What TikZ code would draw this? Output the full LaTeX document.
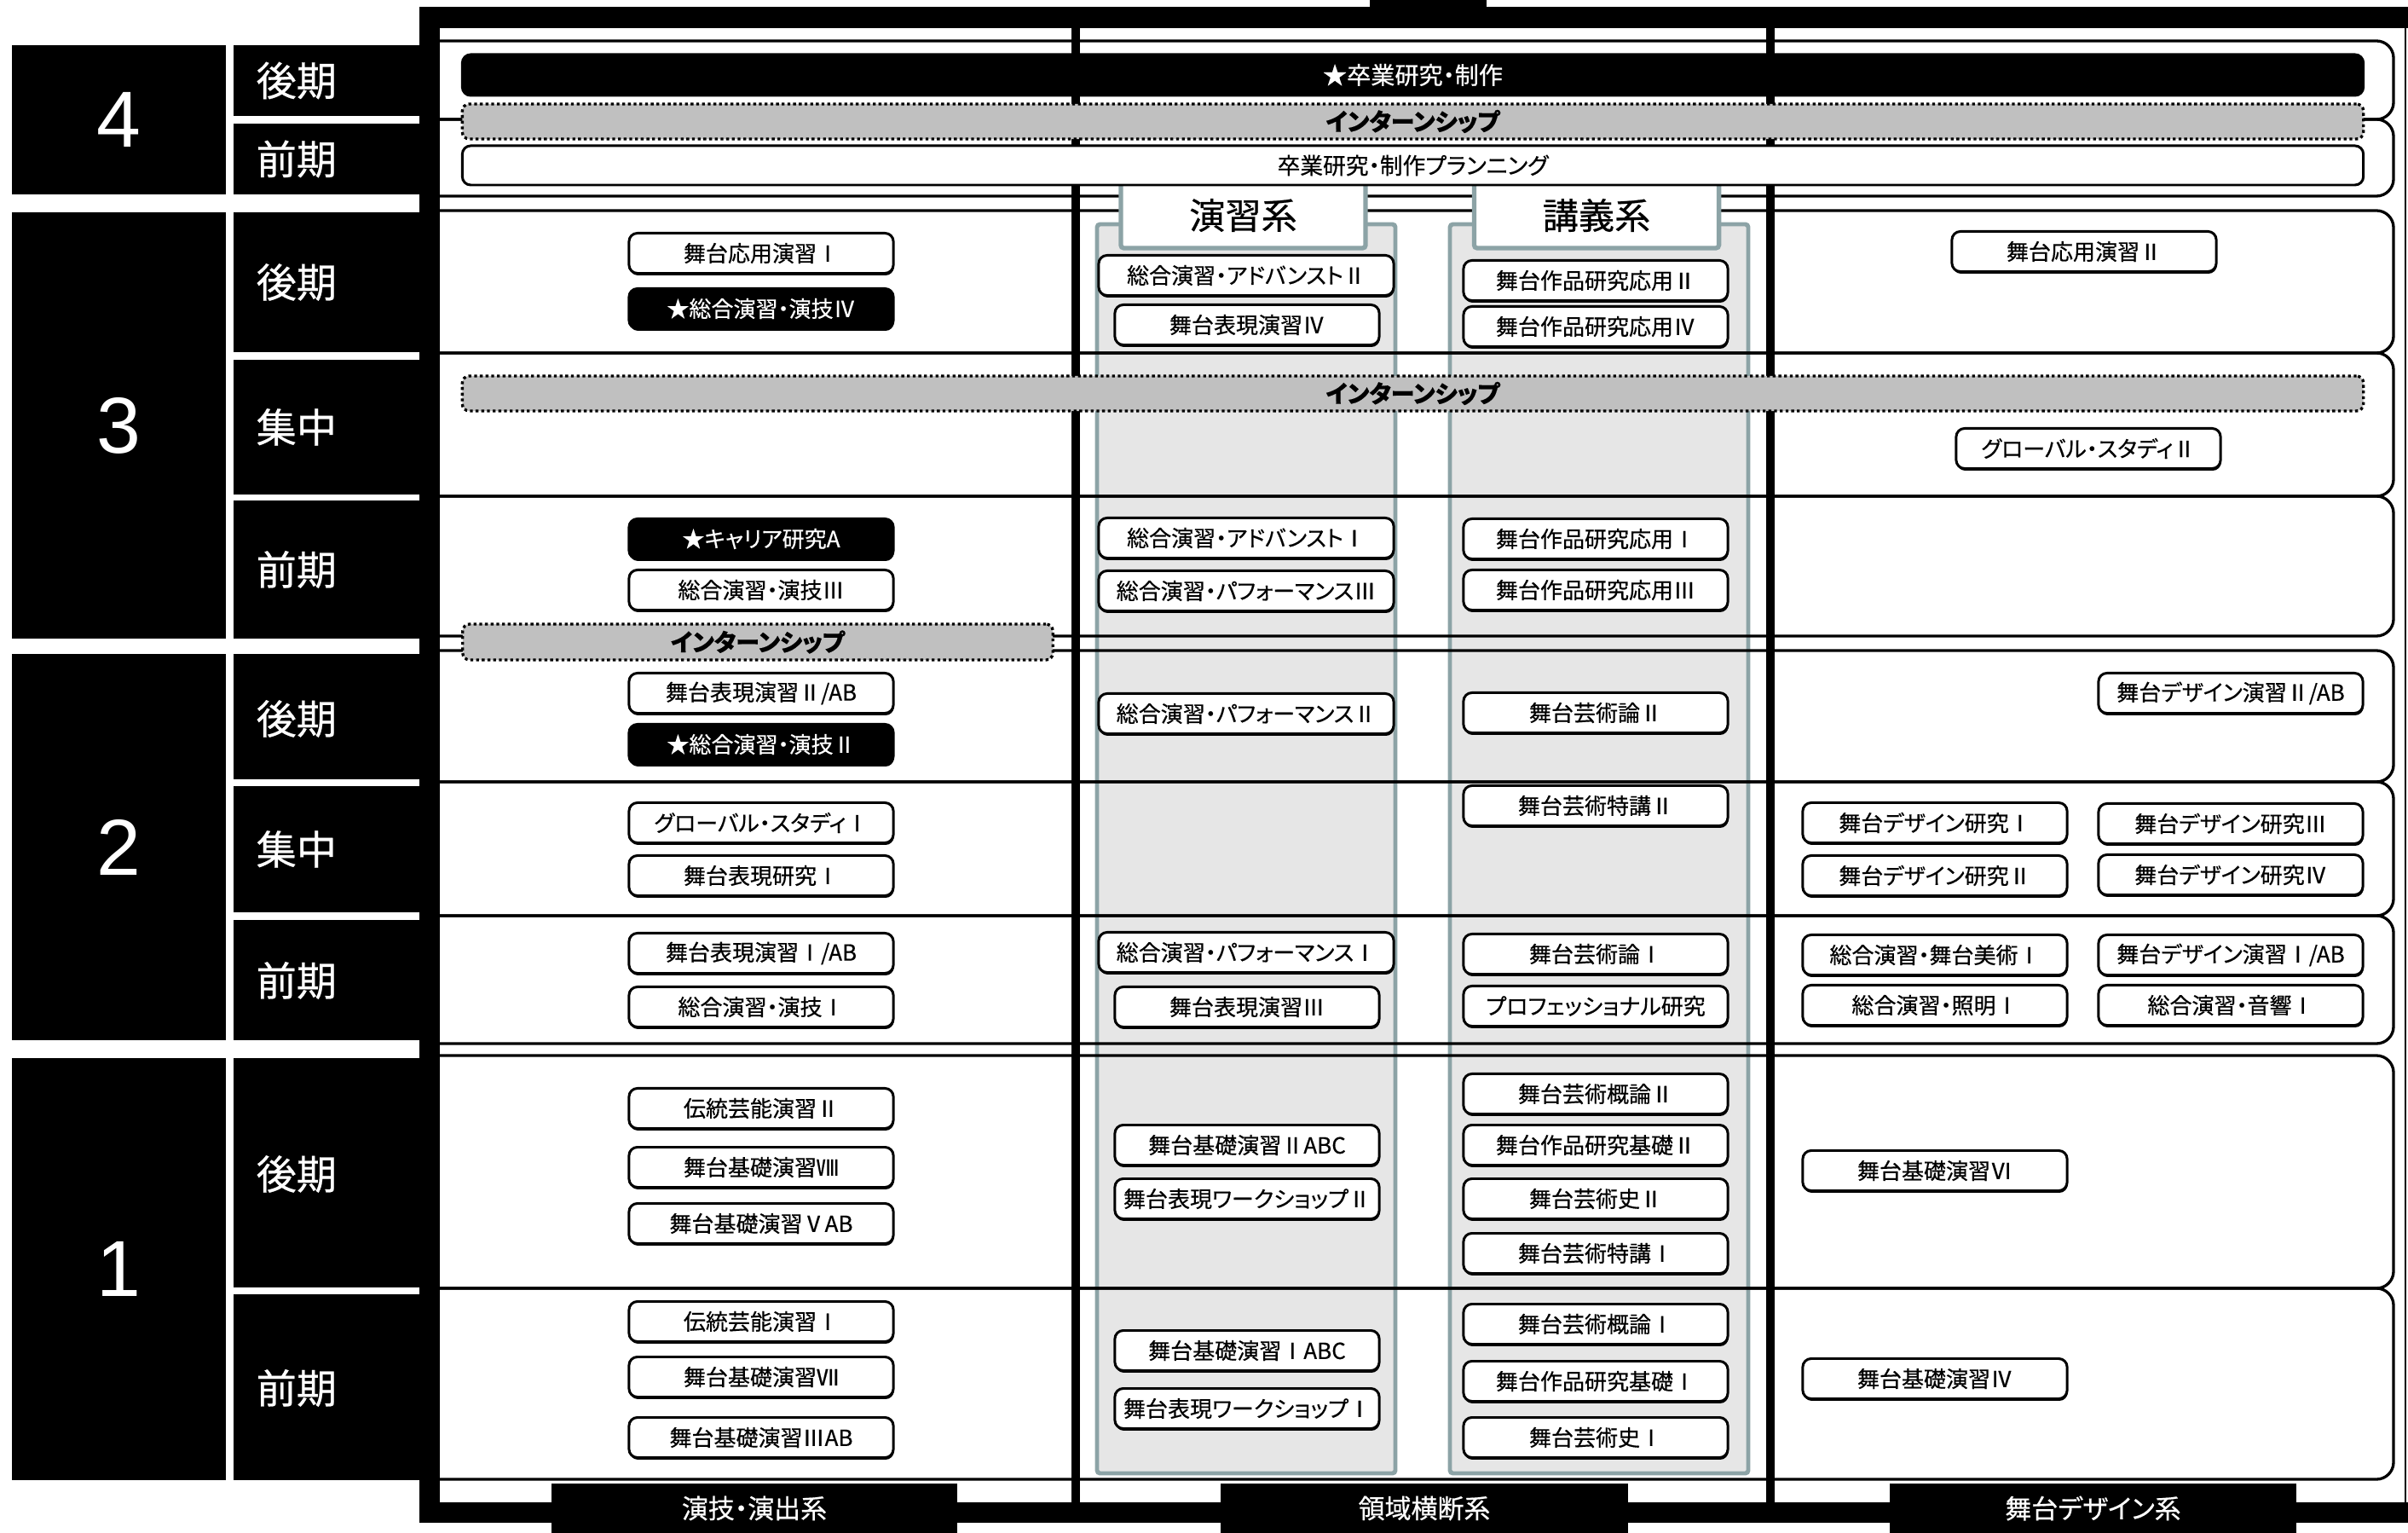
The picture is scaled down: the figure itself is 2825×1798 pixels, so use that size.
\documentclass[tikz,border=0pt]{standalone}
\usepackage{fontspec}
\setmainfont{Noto Sans CJK JP}
\newfontfamily\jp[RawFeature=+palt, FakeBold=0.5]{Noto Sans CJK JP}
\newfontfamily\jpn[FakeBold=0.5]{Noto Sans CJK JP}
\newfontfamily\lat{Liberation Sans}
\usetikzlibrary{shadows}
\definecolor{tealgray}{RGB}{140,163,166}
\definecolor{panelgray}{RGB}{230,230,230}
\definecolor{interngray}{RGB}{192,192,192}
\tikzset{
  course/.style={draw=black, line width=0.85pt, fill=white, rounded corners=2.8pt,
    minimum height=0.47cm, inner sep=0pt, font=\jp\fontsize{7.4}{8}\selectfont,
    drop shadow={shadow xshift=0.2pt, shadow yshift=-0.7pt, fill=black, opacity=1}},
  dark/.style={fill=black, text=white},
  cw/.style={minimum width=3.1cm},
  ww/.style={minimum width=3.46cm},
  rowl/.style={line width=0.94pt, rounded corners=0.2cm},
  divider/.style={line width=2.85pt},
  panel/.style={draw=tealgray, line width=1.4pt, fill=panelgray, rounded corners=1pt},
  header/.style={draw=tealgray, line width=1.5pt, fill=white, rounded corners=1pt,
    minimum width=2.87cm, minimum height=0.77cm, inner sep=0pt, font=\jpn\fontsize{12}{13}\selectfont},
  intern/.style={draw=black, fill=interngray, line width=0.94pt, dash pattern=on 0.95pt off 0.95pt,
    rounded corners=2.3pt, inner sep=0pt, font=\jp\fontsize{8}{9}\selectfont\bfseries},
  bar/.style={draw=black, line width=0.85pt, rounded corners=2.8pt, inner sep=0pt,
    minimum width=22.29cm, font=\jp\fontsize{7.6}{9}\selectfont},
  sem/.style={anchor=west, inner sep=0pt, text=white, font=\jpn\fontsize{13.4}{15}\selectfont},
  yr/.style={inner sep=0pt, text=white, font=\lat\fontsize{26.5}{30}\selectfont},
  foot/.style={fill=black, text=white, inner sep=0pt, minimum height=0.58cm,
    font=\jp\fontsize{8.8}{10}\selectfont}
}
\begin{document}
\begin{tikzpicture}[x=0.01cm, y=-0.01cm]
\useasboundingbox (0,0) rectangle (2825,1798);
\fill[white] (0,0) rectangle (2825,1798);

% grey panels
\draw[panel] (1287,263) rectangle (1637,1728);
\draw[panel] (1701,263) rectangle (2051,1728);

% semester rows
\newcommand\semrow[2]{\draw[rowl] (505,#1) -- (2808,#1) -- (2808,#2) -- (505,#2);}
\semrow{48}{140}
\semrow{140}{230}
\semrow{247}{414}
\semrow{414}{582}
\semrow{582}{746}
\semrow{763}{917}
\semrow{917}{1074}
\semrow{1074}{1224}
\semrow{1238}{1511}
\semrow{1511}{1735}

% column dividers
\draw[divider] (1262,33) -- (1262,1762);
\draw[divider] (2077,33) -- (2077,1762);

% panel headers
\node[header] (hEnshu) at (1458.5,252.5) {演習系};
\node[header] (hKogi) at (1873,252.5) {講義系};

% frame
\fill (492,8) rectangle (2825,33);
\fill (492,8) rectangle (516,1786);
\fill (492,1762) rectangle (2825,1786);
\fill (1607,0) rectangle (1744,8);
\draw[line width=0.5pt] (2822,8) -- (2822,1786);

% year blocks
\fill (14,53) rectangle (265,228);
\fill (14,249) rectangle (265,749);
\fill (14,767) rectangle (265,1220);
\fill (14,1241) rectangle (265,1736);
\node[yr] (y4) at (139.5,140.5) {4};
\node[yr] (y3) at (139.5,499) {3};
\node[yr] (y2) at (139.5,993.5) {2};
\node[yr] (y1) at (139.5,1488.5) {1};

% semester blocks
\fill (274,53) rectangle (500,136);
\fill (274,145) rectangle (500,228);
\fill (274,249) rectangle (500,413);
\fill (274,422) rectangle (500,580);
\fill (274,587) rectangle (500,749);
\fill (274,767) rectangle (500,914);
\fill (274,922) rectangle (500,1070);
\fill (274,1079) rectangle (500,1220);
\fill (274,1241) rectangle (500,1510);
\fill (274,1518) rectangle (500,1736);
\node[sem] (s4a) at (300,94.5) {後期};
\node[sem] (s4b) at (300,186.5) {前期};
\node[sem] (s3a) at (300,331) {後期};
\node[sem] (s3b) at (300,501) {集中};
\node[sem] (s3c) at (300,668) {前期};
\node[sem] (s2a) at (300,843) {後期};
\node[sem] (s2b) at (300,996) {集中};
\node[sem] (s2c) at (300,1150) {前期};
\node[sem] (s1a) at (300,1377) {後期};
\node[sem] (s1b) at (300,1628) {前期};

% 4th year bars
\node[bar, dark, minimum height=0.48cm, font=\jp\fontsize{8}{9}\selectfont] (sotsu) at (1657.5,88) {★卒業研究・制作};
\node[intern, minimum width=22.29cm, minimum height=0.41cm] (int4) at (1657.5,142.5) {インターンシップ};
\node[bar, fill=white, minimum height=0.46cm] (plan) at (1657.5,194) {卒業研究・制作プランニング};
\node[intern, minimum width=22.29cm, minimum height=0.41cm] (int3) at (1657.5,461.5) {インターンシップ};
\node[intern, minimum width=6.92cm, minimum height=0.42cm] (int2) at (889,753) {インターンシップ};

% column 1
\newcommand\crs[5]{\node[course,#1] (#2) at (#3,#4) {#5};}
\crs{cw}{a1}{893}{297}{舞台応用演習Ⅰ}
\crs{cw,dark}{a2}{893}{362}{★総合演習・演技Ⅳ}
\crs{cw,dark}{a3}{893}{632}{★キャリア研究A}
\crs{cw}{a4}{893}{692}{総合演習・演技Ⅲ}
\crs{cw}{a5}{893}{813}{舞台表現演習Ⅱ/AB}
\crs{cw,dark}{a6}{893}{873}{★総合演習・演技Ⅱ}
\crs{cw}{a7}{893}{965}{グローバル・スタディⅠ}
\crs{cw}{a8}{893}{1027}{舞台表現研究Ⅰ}
\crs{cw}{a9}{893}{1118}{舞台表現演習Ⅰ/AB}
\crs{cw}{a10}{893}{1181}{総合演習・演技Ⅰ}
\crs{cw}{a11}{893}{1300}{伝統芸能演習Ⅱ}
\crs{cw}{a12}{893}{1369}{舞台基礎演習Ⅷ}
\crs{cw}{a13}{893}{1435}{舞台基礎演習ⅤAB}
\crs{cw}{a14}{893}{1550}{伝統芸能演習Ⅰ}
\crs{cw}{a15}{893}{1615}{舞台基礎演習Ⅶ}
\crs{cw}{a16}{893}{1686}{舞台基礎演習ⅢAB}

% 演習系
\crs{ww}{b1}{1462}{323}{総合演習・アドバンストⅡ}
\crs{cw}{b2}{1463}{381}{舞台表現演習Ⅳ}
\crs{ww}{b3}{1462}{631}{総合演習・アドバンストⅠ}
\crs{ww}{b4}{1462}{693}{総合演習・パフォーマンスⅢ}
\crs{ww}{b5}{1462}{837}{総合演習・パフォーマンスⅡ}
\crs{ww}{b6}{1462}{1117}{総合演習・パフォーマンスⅠ}
\crs{cw}{b7}{1463}{1181}{舞台表現演習Ⅲ}
\crs{cw}{b8}{1463}{1343}{舞台基礎演習ⅡABC}
\crs{cw}{b9}{1463}{1406}{舞台表現ワークショップⅡ}
\crs{cw}{b10}{1463}{1584}{舞台基礎演習ⅠABC}
\crs{cw}{b11}{1463}{1652}{舞台表現ワークショップⅠ}

% 講義系
\crs{cw}{k1}{1872}{329}{舞台作品研究応用Ⅱ}
\crs{cw}{k2}{1872}{383}{舞台作品研究応用Ⅳ}
\crs{cw}{k3}{1872}{632}{舞台作品研究応用Ⅰ}
\crs{cw}{k4}{1872}{692}{舞台作品研究応用Ⅲ}
\crs{cw}{k5}{1872}{836}{舞台芸術論Ⅱ}
\crs{cw}{k6}{1872}{945}{舞台芸術特講Ⅱ}
\crs{cw}{k7}{1872}{1119}{舞台芸術論Ⅰ}
\crs{cw}{k8}{1872}{1180}{プロフェッショナル研究}
\crs{cw}{k9}{1872}{1283}{舞台芸術概論Ⅱ}
\crs{cw}{k10}{1872}{1343}{舞台作品研究基礎Ⅱ}
\crs{cw}{k11}{1872}{1406}{舞台芸術史Ⅱ}
\crs{cw}{k12}{1872}{1470}{舞台芸術特講Ⅰ}
\crs{cw}{k13}{1872}{1553}{舞台芸術概論Ⅰ}
\crs{cw}{k14}{1872}{1620}{舞台作品研究基礎Ⅰ}
\crs{cw}{k15}{1872}{1686}{舞台芸術史Ⅰ}

% 舞台デザイン系
\crs{cw}{d1}{2445}{295}{舞台応用演習Ⅱ}
\crs{cw}{d2}{2450}{526}{グローバル・スタディⅡ}
\crs{cw}{d3}{2617}{813}{舞台デザイン演習Ⅱ/AB}
\crs{cw}{d4}{2270}{965}{舞台デザイン研究Ⅰ}
\crs{cw}{d5}{2617}{966}{舞台デザイン研究Ⅲ}
\crs{cw}{d6}{2270}{1027}{舞台デザイン研究Ⅱ}
\crs{cw}{d7}{2617}{1026}{舞台デザイン研究Ⅳ}
\crs{cw}{d8}{2270}{1120}{総合演習・舞台美術Ⅰ}
\crs{cw}{d9}{2617}{1120}{舞台デザイン演習Ⅰ/AB}
\crs{cw}{d10}{2270}{1179}{総合演習・照明Ⅰ}
\crs{cw}{d11}{2617}{1179}{総合演習・音響Ⅰ}
\crs{cw}{d12}{2270}{1373}{舞台基礎演習Ⅵ}
\crs{cw}{d13}{2270}{1617}{舞台基礎演習Ⅳ}

% footer labels
\node[foot, minimum width=4.76cm] (f1) at (885,1769) {演技・演出系};
\node[foot, minimum width=4.78cm] (f2) at (1671,1769) {領域横断系};
\node[foot, minimum width=4.77cm] (f3) at (2455.5,1769) {舞台デザイン系};
\end{tikzpicture}
\end{document}
